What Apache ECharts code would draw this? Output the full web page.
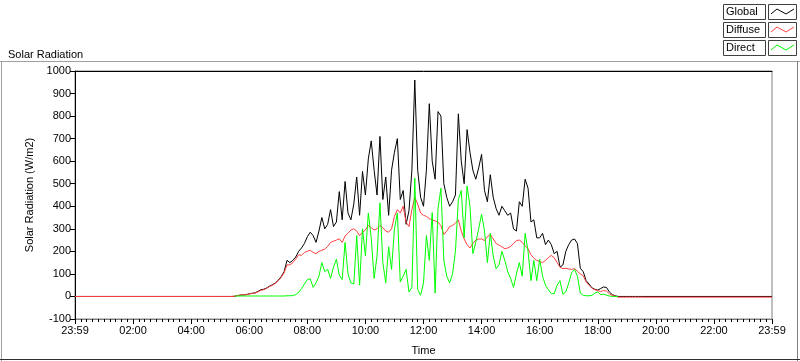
<!DOCTYPE html>
<html>
<head>
<meta charset="utf-8">
<script src="https://cdn.jsdelivr.net/npm/echarts@6/dist/echarts.min.js"></script>
<style>
html,body{margin:0;padding:0;background:#fff;}
#chart{width:800px;height:361px;}
</style>
</head>
<body>
<div id="chart"></div>
<script>
// Time in hours after 23:59 (start of the day axis)
const times = [0,
 5.0,5.1,5.2,5.3,5.4,5.5,5.6,5.7,5.8,5.9,
 6.0,6.1,6.2,6.3,6.4,6.5,6.6,6.7,6.8,6.9,
 7.0,7.1,7.2,7.3,7.4,7.5,7.6,7.7,7.8,7.9,
 8.0,8.1,8.2,8.3,8.4,8.5,8.6,8.7,8.8,8.9,
 9.0,9.1,9.2,9.3,9.4,9.5,9.6,9.7,9.8,9.9,
 10.0,10.1,10.2,10.3,10.4,10.5,10.6,10.7,10.8,10.9,
 11.0,11.1,11.2,11.3,11.4,11.5,11.6,11.7,11.8,11.9,
 12.0,12.1,12.2,12.3,12.4,12.5,12.6,12.7,12.8,12.9,
 13.0,13.1,13.2,13.3,13.4,13.5,13.6,13.7,13.8,13.9,
 14.0,14.1,14.2,14.3,14.4,14.5,14.6,14.7,14.8,14.9,
 15.0,15.1,15.2,15.3,15.4,15.5,15.6,15.7,15.8,15.9,
 16.0,16.1,16.2,16.3,16.4,16.5,16.6,16.7,16.8,16.9,
 17.0,17.1,17.2,17.3,17.4,17.5,17.6,17.7,17.8,17.9,
 18.0,18.1,18.2,18.3,18.4,18.5,18.6,18.7,18.8,18.9,
 19.0,19.1,19.2,19.3,19.4,19.5,
 24];

const globalRad = [0,
 0,0,0,0,0, 1,4,6,7,8,
 12,14,16,22,30, 32,38,46,52,60,
 72,88,110,160,150, 160,175,200,215,235,
 265,285,270,240,290, 350,300,320,385,310,
 330,465,340,510,370, 340,410,530,360,555,
 450,610,690,560,450, 710,430,530,360,560,
 640,700,430,470,320, 380,560,960,560,440,
 400,560,855,600,520, 820,800,500,440,400,
 420,450,810,600,500, 740,640,560,520,570,
 630,470,420,540,440, 390,360,400,380,360,
 370,300,290,420,400, 520,480,330,340,260,
 260,280,230,250,230, 190,200,130,140,200,
 230,250,255,235,125, 110,70,55,38,32,
 28,35,42,40,20, 8,3,0,0,0,
 0,0,0,0,0,0,
 0];

const diffuseRad = [0,
 0,0,0,0,0, 1,4,6,7,8,
 11,13,15,20,27, 30,36,44,50,58,
 70,85,105,140,140, 150,165,185,182,195,
 200,205,195,190,200, 205,210,222,240,245,
 250,256,240,268,280, 295,300,290,270,285,
 295,315,305,295,300, 315,305,290,285,300,
 355,385,370,400,330, 310,385,440,410,370,
 360,355,345,340,335, 330,314,275,290,310,
 315,325,340,290,255, 230,215,235,250,255,
 255,248,265,275,255, 235,228,220,212,215,
 222,235,248,250,240, 225,212,185,170,160,
 155,150,160,172,182, 172,150,130,123,125,
 122,120,123,112,100, 92,65,50,36,30,
 26,22,26,24,12, 5,2,-3,-3,-3,
 -3,-3,-3,-3,-3,-3,
 -3];

const directRad = [null,
 null,null,null,null,null, 2,2,2,2,2,
 2,2,2,2,2, 2,2,2,2,2,
 2,2,2,3,3, 4,8,18,35,55,
 75,78,40,60,90, 150,110,120,80,130,
 165,95,75,240,100, 60,55,270,50,300,
 180,370,260,80,180, 415,150,60,220,120,
 300,370,64,90,120, 20,40,525,30,5,
 60,270,160,372,15, 390,480,160,90,60,
 100,200,430,470,260, 490,400,190,240,300,
 365,290,150,280,180, 123,140,200,160,110,
 80,40,100,150,90, 280,200,70,160,70,
 165,90,50,30,13, 12,50,70,10,20,
 60,105,120,90,15, 5,3,3,5,15,
 20,8,10,6,2, 0,0,0,null,null,
 null,null,null,null,null,null,
 null];

const xTickLabels = ['23:59','02:00','04:00','06:00','08:00','10:00','12:00','14:00','16:00','18:00','20:00','22:00','23:59'];
const seriesNames = ['Global','Diffuse','Direct'];
const seriesColors = ['#000000','#ff4040','#00ff00'];

const FONT = '"Liberation Sans", Arial, sans-serif';
const chart = echarts.init(document.getElementById('chart'), null, {renderer:'canvas'});

function pairs(vals){ return times.map((t,i)=>[t, vals[i]]); }
const seriesVals = [globalRad, diffuseRad, directRad];

// legend graphics
const legendGraphics = [];
seriesNames.forEach((name, k) => {
  const y0 = 4 + k*18;
  legendGraphics.push({type:'rect', shape:{x:723.5, y:y0+0.5, width:42, height:15}, style:{fill:'#fff', stroke:'#404040', lineWidth:1}, silent:true});
  legendGraphics.push({type:'text', style:{x:726, y:y0+8, text:name, font:'11px '+FONT, fill:'#000', verticalAlign:'middle'}, silent:true});
  legendGraphics.push({type:'rect', shape:{x:768.5, y:y0+0.5, width:28, height:15}, style:{fill:'#fff', stroke:'#404040', lineWidth:1}, silent:true});
  legendGraphics.push({type:'polyline', shape:{points:[[771,y0+10],[777,y0+5],[786,y0+10],[794,y0+5]]}, style:{stroke:seriesColors[k], lineWidth:1, fill:null}, silent:true});
});

const option = {
  animation:false,
  backgroundColor:'#ffffff',
  textStyle:{fontFamily:FONT},
  title:{text:'Solar Radiation', left:3, top:44, textStyle:{fontSize:11, fontWeight:'normal', color:'#000', fontFamily:FONT}},
  grid:{left:75, right:28, top:71, bottom:40, show:true, borderColor:'#808080', borderWidth:1, backgroundColor:'#fff'},
  xAxis:[{
    type:'value', min:0, max:24, interval:2, position:'bottom',
    name:'Time', nameLocation:'middle', nameGap:26,
    nameTextStyle:{fontSize:11, color:'#000', fontFamily:FONT},
    axisLine:{show:true, onZero:false, lineStyle:{color:'#808080', width:1}},
    axisTick:{show:true, length:5, lineStyle:{color:'#000'}},
    minorTick:{show:true, splitNumber:10, length:3, lineStyle:{color:'#000'}},
    splitLine:{show:false},
    axisLabel:{fontSize:11, color:'#000', margin:6, fontFamily:FONT,
      formatter:(v)=> xTickLabels[Math.round(v/2)]}
  },{
    type:'value', min:0, max:24, position:'top',
    axisLine:{show:true, onZero:false, lineStyle:{color:'#000', width:1}},
    axisTick:{show:false}, axisLabel:{show:false}, splitLine:{show:false}
  }],
  yAxis:{
    type:'value', min:-100, max:1000, interval:100,
    name:'Solar Radiation (W/m2)', nameLocation:'middle', nameGap:34, nameRotate:90,
    nameTextStyle:{fontSize:11, color:'#000', fontFamily:FONT},
    axisLine:{show:true, onZero:false, lineStyle:{color:'#000', width:1}},
    axisTick:{show:true, length:5, inside:false, lineStyle:{color:'#000'}},
    splitLine:{show:false},
    axisLabel:{fontSize:11, color:'#000', margin:4, fontFamily:FONT, formatter:(v)=>String(v)}
  },
  series: seriesNames.map((n,k)=>({
    name:n, type:'line', data:pairs(seriesVals[k]), showSymbol:false, symbol:'none',
    connectNulls:false, clip:true,
    lineStyle:{color:seriesColors[k], width:1},
    z: 2+k
  })),
  graphic:[
    {type:'line', shape:{x1:0, y1:61.5, x2:800, y2:61.5}, style:{stroke:'#a0a0a0', lineWidth:1}, silent:true},
    {type:'line', shape:{x1:1.5, y1:61, x2:1.5, y2:361}, style:{stroke:'#a0a0a0', lineWidth:1}, silent:true},
    {type:'line', shape:{x1:797.5, y1:61, x2:797.5, y2:361}, style:{stroke:'#808080', lineWidth:1}, silent:true},
    {type:'line', shape:{x1:0, y1:359.5, x2:800, y2:359.5}, style:{stroke:'#303030', lineWidth:1}, silent:true}
  ].concat(legendGraphics)
};
chart.setOption(option);
</script>
</body>
</html>
